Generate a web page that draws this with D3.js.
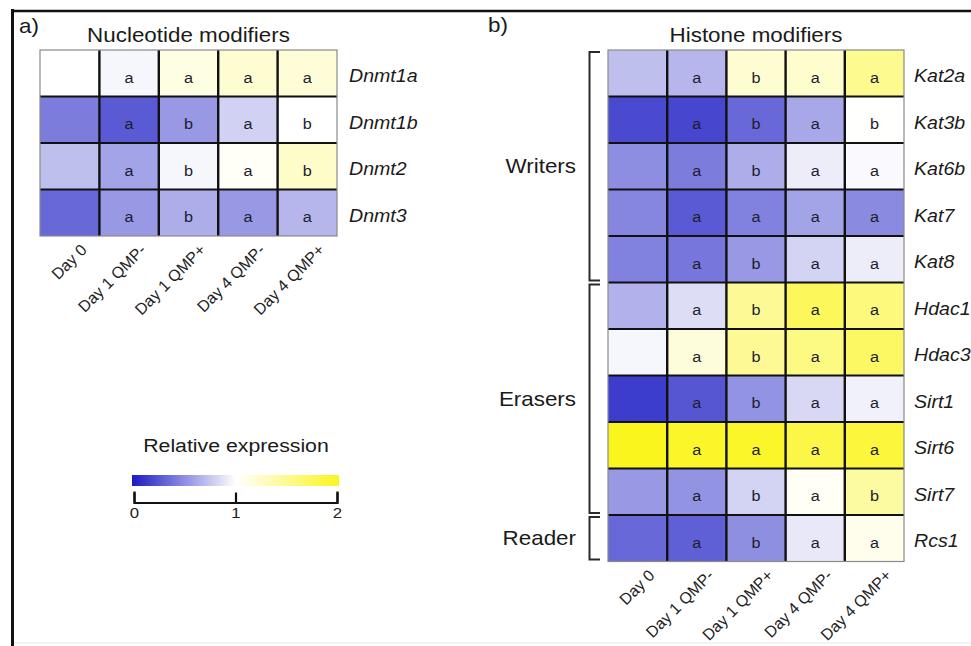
<!DOCTYPE html>
<html>
<head>
<meta charset="utf-8">
<script src="https://cdn.jsdelivr.net/npm/d3@7"></script>
<style>
  html, body { margin: 0; padding: 0; background: #fff; }
  svg { display: block; font-family: "Liberation Sans", Arial, Helvetica, sans-serif; }
</style>
</head>
<body>
<svg id="chart" width="971" height="646"></svg>
<script>
// Sampling time points (columns of both heatmaps)
const columns = ["Day 0", "Day 1 QMP-", "Day 1 QMP+", "Day 4 QMP-", "Day 4 QMP+"];

// a) Nucleotide modifiers: relative expression and significance letters
const nucGenes = ["Dnmt1a", "Dnmt1b", "Dnmt2", "Dnmt3"];
const nucValues = [
  [1.00, 0.96, 1.13, 1.20, 1.18],
  [0.43, 0.28, 0.55, 0.80, 1.00],
  [0.72, 0.60, 0.96, 1.03, 1.24],
  [0.34, 0.55, 0.64, 0.55, 0.68]
];
const nucLetters = [
  ["", "a", "a", "a", "a"],
  ["", "a", "b", "a", "b"],
  ["", "a", "b", "a", "b"],
  ["", "a", "b", "a", "a"]
];

// b) Histone modifiers
const hisGenes = ["Kat2a", "Kat3b", "Kat6b", "Kat7", "Kat8", "Hdac1", "Hdac3", "Sirt1", "Sirt6", "Sirt7", "Rcs1"];
const hisValues = [
  [0.72, 0.68, 1.20, 1.22, 1.50],
  [0.21, 0.19, 0.34, 0.62, 1.01],
  [0.50, 0.43, 0.64, 0.92, 0.98],
  [0.47, 0.28, 0.45, 0.60, 0.49],
  [0.45, 0.40, 0.55, 0.81, 0.92],
  [0.66, 0.85, 1.47, 1.73, 1.58],
  [0.96, 1.16, 1.47, 1.55, 1.69],
  [0.15, 0.26, 0.53, 0.83, 0.94],
  [2.00, 1.95, 1.95, 1.82, 1.86],
  [0.55, 0.53, 0.81, 1.04, 1.42],
  [0.34, 0.30, 0.51, 0.90, 1.08]
];
const hisLetters = [
  ["", "a", "b", "a", "a"],
  ["", "a", "b", "a", "b"],
  ["", "a", "b", "a", "a"],
  ["", "a", "a", "a", "a"],
  ["", "a", "b", "a", "a"],
  ["", "a", "b", "a", "a"],
  ["", "a", "b", "a", "a"],
  ["", "a", "b", "a", "a"],
  ["", "a", "a", "a", "a"],
  ["", "a", "b", "a", "b"],
  ["", "a", "b", "a", "a"]
];

// Functional groups of the histone modifiers (row index ranges)
const groupNames = ["Writers", "Erasers", "Reader"];
const groupFirst = [0, 5, 10];
const groupLast = [4, 9, 10];

// Colour legend ticks
const legendTicks = [0, 1, 2];

const SX = 1.12; // horizontal text stretch used throughout the figure

const svg = d3.select("#chart");
const color = d3.scaleLinear()
  .domain([0, 1, 2])
  .range(["#1a1ac4", "#ffffff", "#fbf51e"])
  .interpolate(d3.interpolateRgb);

function stretchedText(g, x, y, txt, opts = {}) {
  const sx = opts.noStretch ? 1 : SX;
  const t = g.append("text")
    .attr("transform", `translate(${x},${y}) scale(${sx},1)` + (opts.rotate ? ` rotate(${opts.rotate})` : ""))
    .attr("text-anchor", opts.anchor || "start")
    .attr("font-size", opts.size || 14)
    .attr("fill", opts.fill || "#222")
    .text(txt);
  if (opts.italic) t.attr("font-style", "italic");
  return t;
}

// Outer frame
svg.append("line").attr("x1", 12.5).attr("x2", 12.5).attr("y1", 9).attr("y2", 646)
  .attr("stroke", "#111").attr("stroke-width", 3);
svg.append("line").attr("x1", 11).attr("x2", 971).attr("y1", 11).attr("y2", 11)
  .attr("stroke", "#111").attr("stroke-width", 2.5);
svg.append("line").attr("x1", 14).attr("x2", 971).attr("y1", 643).attr("y2", 643)
  .attr("stroke", "#e6e6e6").attr("stroke-width", 1);

function heatmap(cfg) {
  const g = svg.append("g");
  const x = d3.scaleBand().domain(columns).range([cfg.x0, cfg.x1]);
  const y = d3.scaleBand().domain(cfg.genes).range([cfg.y0, cfg.y1]);
  const cells = [];
  cfg.genes.forEach((gene, i) => columns.forEach((col, j) => {
    cells.push({ gene, col, v: cfg.values[i][j], letter: cfg.letters[i][j] });
  }));

  g.selectAll("rect.cell").data(cells).join("rect")
    .attr("class", "cell")
    .attr("x", d => x(d.col)).attr("y", d => y(d.gene))
    .attr("width", x.bandwidth()).attr("height", y.bandwidth())
    .attr("fill", d => color(d.v));

  // inner grid
  columns.slice(1).forEach(c => {
    g.append("line").attr("x1", x(c)).attr("x2", x(c))
      .attr("y1", cfg.y0).attr("y2", cfg.y1)
      .attr("stroke", "#111").attr("stroke-width", 2.4);
  });
  cfg.genes.slice(1).forEach(gn => {
    g.append("line").attr("x1", cfg.x0).attr("x2", cfg.x1)
      .attr("y1", y(gn)).attr("y2", y(gn))
      .attr("stroke", "#111").attr("stroke-width", 2.2);
  });
  g.append("rect").attr("x", cfg.x0).attr("y", cfg.y0)
    .attr("width", cfg.x1 - cfg.x0).attr("height", cfg.y1 - cfg.y0)
    .attr("fill", "none").attr("stroke", "#8a8a8a").attr("stroke-width", 1.2);

  // significance letters
  cells.filter(d => d.letter).forEach(d => {
    stretchedText(g, x(d.col) + x.bandwidth() / 2, y(d.gene) + y.bandwidth() / 2 + 9.5, d.letter,
      { anchor: "middle", size: 14.5, fill: "#1e1e2e" });
  });

  // gene labels
  cfg.genes.forEach(gn => {
    stretchedText(g, cfg.x1 + cfg.labelGap, y(gn) + y.bandwidth() / 2 + 9, gn,
      { size: 17.5, italic: true, fill: "#1a1a1a" });
  });

  // column labels
  columns.forEach(c => {
    stretchedText(g, x(c) + x.bandwidth() / 2 + 18, cfg.y1 + 15, c,
      { anchor: "end", size: 16, rotate: -45, noStretch: true, fill: "#222" });
  });

  // title
  stretchedText(g, (cfg.x0 + cfg.x1) / 2, 42, cfg.title, { anchor: "middle", size: 20, fill: "#1a1a1a" });
  return { x, y };
}

// Panel a
stretchedText(svg, 19, 33, "a)", { size: 20, fill: "#1a1a1a" });
heatmap({
  genes: nucGenes, values: nucValues, letters: nucLetters,
  x0: 40, x1: 337, y0: 50, y1: 50 + 46.5 * nucGenes.length,
  labelGap: 12, title: "Nucleotide modifiers"
});

// Panel b
stretchedText(svg, 488, 32, "b)", { size: 20, fill: "#1a1a1a" });
const hb = heatmap({
  genes: hisGenes, values: hisValues, letters: hisLetters,
  x0: 608, x1: 904, y0: 50, y1: 50 + 46.5 * hisGenes.length,
  labelGap: 10, title: "Histone modifiers"
});

// Group brackets
groupNames.forEach((name, k) => {
  const top = hb.y(hisGenes[groupFirst[k]]) + 2;
  const bot = hb.y(hisGenes[groupLast[k]]) + hb.y.bandwidth() - 2;
  svg.append("path")
    .attr("d", `M600,${top}H589.5V${bot}H600`)
    .attr("fill", "none").attr("stroke", "#2a2a2a").attr("stroke-width", 2);
  stretchedText(svg, 576, (top + bot) / 2 + 7, name, { anchor: "end", size: 20, fill: "#1a1a1a" });
});

// Colour legend
const lg = svg.append("g");
const lx = d3.scaleLinear().domain([0, 2]).range([134, 337]);
stretchedText(lg, 236, 452, "Relative expression", { anchor: "middle", size: 19, fill: "#1a1a1a" });

const defs = svg.append("defs");
const grad = defs.append("linearGradient").attr("id", "relexp")
  .attr("x1", "0%").attr("x2", "100%").attr("y1", "0%").attr("y2", "0%");
d3.range(0, 2.0001, 0.1).forEach(v => {
  grad.append("stop").attr("offset", `${v / 2 * 100}%`).attr("stop-color", color(v));
});
lg.append("rect").attr("x", lx(0) - 2).attr("y", 475)
  .attr("width", lx(2) - lx(0) + 4).attr("height", 11)
  .attr("fill", "url(#relexp)");

const axis = d3.axisBottom(lx).tickValues(legendTicks).tickFormat(d3.format("d"))
  .tickSizeInner(-10).tickSizeOuter(-11).tickPadding(5);
const ag = lg.append("g").attr("transform", "translate(0,502.5)").call(axis);
ag.select(".domain").attr("stroke", "#111").attr("stroke-width", 2.2);
ag.selectAll(".tick line").attr("stroke", "#111").attr("stroke-width", 2.2);
ag.selectAll(".tick text")
  .attr("font-size", 15).attr("font-family", "'Liberation Sans', Arial, sans-serif")
  .attr("fill", "#222")
  .attr("transform", `scale(${SX},1)`);
</script>
</body>
</html>
